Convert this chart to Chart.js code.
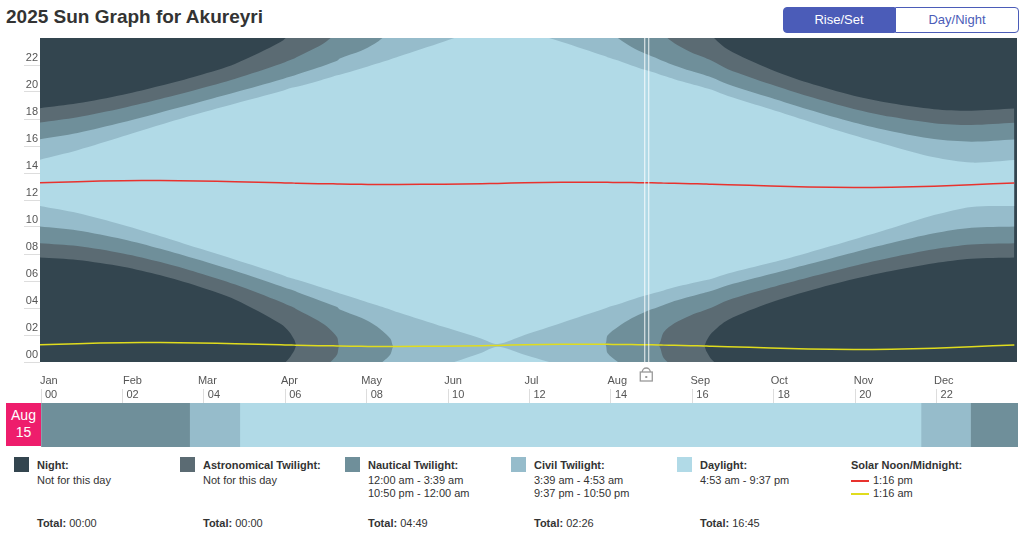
<!DOCTYPE html>
<html>
<head>
<meta charset="utf-8">
<script src="https://cdn.jsdelivr.net/npm/chart.js@4"></script>
<style>
  body { margin: 0; width: 1022px; height: 535px; overflow: hidden; font-family: "Helvetica Neue", "Liberation Sans", Arial, sans-serif; background: #fff; position: relative; }
  h1 { position: absolute; left: 6px; top: 6px; margin: 0; font-size: 19px; font-weight: bold; color: #333; }
  .btns { position: absolute; left: 783px; top: 7px; display: flex; }
  .btn { height: 24px; line-height: 24px; font-size: 13px; padding: 0 12px; border: 1px solid #4b5cb8; color: #4b5cb8; background: #fff; }
  .btn.on { background: #4b5cb8; color: #fff; border-radius: 4px 0 0 4px; width: 86px; text-align: center; }
  .btn.off { border-radius: 0 4px 4px 0; width: 98px; text-align: center; }
  #main { position: absolute; left: 0; top: 30px; width: 1022px; height: 358px; }
  #day { position: absolute; left: 0; top: 385px; width: 1022px; height: 62px; }
  .date { position: absolute; left: 6px; top: 403px; width: 35px; height: 43px; background: #ee1d6c; color: #fff; font-size: 14px; line-height: 17px; text-align: center; padding-top: 4px; box-sizing: border-box; }
  .leg { position: absolute; top: 457px; font-size: 11px; color: #333; }
  .leg .sw { position: absolute; left: 0; top: 0; width: 15px; height: 15px; }
  .leg .t { position: absolute; left: 23px; top: 2px; font-weight: bold; white-space: nowrap; }
  .leg .s { position: absolute; left: 23px; top: 17px; line-height: 13px; white-space: nowrap; }
  .leg .tot { position: absolute; left: 23px; top: 60px; white-space: nowrap; }
  .leg .tot b { font-weight: bold; }
  .ln { display: inline-block; width: 18px; height: 2px; vertical-align: middle; margin-right: 4px; }
</style>
</head>
<body>
<h1>2025 Sun Graph for Akureyri</h1>
<div class="btns"><div class="btn on">Rise/Set Times</div><div class="btn off">Day/Night Length</div></div>
<div id="main"><canvas id="sunChart"></canvas></div>
<div id="day"><canvas id="dayChart"></canvas></div>
<div class="date">Aug<br>15</div>

<div class="leg" style="left:14px"><div class="sw" style="background:#33454f"></div><div class="t">Night:</div><div class="s">Not for this day</div><div class="tot"><b>Total:</b> 00:00</div></div>
<div class="leg" style="left:180px"><div class="sw" style="background:#5b6b73"></div><div class="t">Astronomical Twilight:</div><div class="s">Not for this day</div><div class="tot"><b>Total:</b> 00:00</div></div>
<div class="leg" style="left:345px"><div class="sw" style="background:#6f8f9a"></div><div class="t">Nautical Twilight:</div><div class="s">12:00 am - 3:39 am<br>10:50 pm - 12:00 am</div><div class="tot"><b>Total:</b> 04:49</div></div>
<div class="leg" style="left:511px"><div class="sw" style="background:#96bccb"></div><div class="t">Civil Twilight:</div><div class="s">3:39 am - 4:53 am<br>9:37 pm - 10:50 pm</div><div class="tot"><b>Total:</b> 02:26</div></div>
<div class="leg" style="left:677px"><div class="sw" style="background:#b1dae7"></div><div class="t">Daylight:</div><div class="s">4:53 am - 9:37 pm</div><div class="tot"><b>Total:</b> 16:45</div></div>
<div class="leg" style="left:851px"><div class="t" style="left:0">Solar Noon/Midnight:</div><div class="s" style="left:0"><span class="ln" style="background:#e8322e"></span>1:16 pm<br><span class="ln" style="background:#e0dc1e"></span>1:16 am</div></div>

<script>
// day of year (Jan 1 = 0) for each sample
const days = [0, 14, 31, 45, 59, 73, 90, 93, 95, 96, 104, 108, 111, 112, 120, 125, 129, 131, 132, 134, 151, 165, 171, 181, 195, 211, 212, 216, 221, 226, 231, 233, 237, 243, 248, 249, 251, 257, 273, 287, 304, 318, 334, 348, 364];
// solar noon, hours
const noon = [13.27, 13.36, 13.43, 13.44, 13.41, 13.36, 13.27, 13.26, 13.25, 13.24, 13.21, 13.20, 13.19, 13.18, 13.16, 13.155, 13.15, 13.15, 13.15, 13.15, 13.17, 13.21, 13.23, 13.27, 13.31, 13.31, 13.31, 13.30, 13.29, 13.28, 13.26, 13.25, 13.24, 13.21, 13.19, 13.18, 13.17, 13.13, 13.04, 12.97, 12.93, 12.95, 13.02, 13.13, 13.26];
// half-durations (hours from noon) of daylight and each twilight limit; 12 = all day
const halfDay = [1.72, 2.33, 3.29, 4.13, 4.97, 5.78, 6.78, 7.00, 7.10, 7.15, 7.61, 7.85, 8.05, 8.10, 8.58, 8.90, 9.15, 9.28, 9.35, 9.48, 10.58, 11.48, 11.9, 11.27, 10.40, 9.35, 9.27, 9.03, 8.68, 8.36, 8.08, 7.95, 7.71, 7.40, 7.15, 7.10, 7.00, 6.58, 5.69, 4.87, 3.86, 3.05, 2.14, 1.64, 1.70];
const halfCivil = [3.23, 3.61, 4.33, 5.05, 5.82, 6.62, 7.66, 7.86, 7.98, 8.06, 8.61, 8.90, 9.12, 9.30, 9.89, 10.41, 11.03, 11.45, 12, 12, 12, 12, 12, 12, 12, 12, 11.35, 10.69, 10.05, 9.57, 9.19, 9.03, 8.73, 8.36, 8.08, 8.02, 7.90, 7.45, 6.53, 5.73, 4.81, 4.14, 3.49, 3.19, 3.22];
const halfNautical = [4.47, 4.77, 5.39, 6.04, 6.79, 7.62, 8.82, 9.07, 9.23, 9.36, 10.16, 10.71, 11.36, 12, 12, 12, 12, 12, 12, 12, 12, 12, 12, 12, 12, 12, 12, 12, 12, 12, 12, 11.05, 10.37, 9.76, 9.38, 9.30, 9.14, 8.56, 7.53, 6.71, 5.82, 5.21, 4.67, 4.43, 4.46];
const halfAstro = [5.53, 5.80, 6.37, 7.02, 7.80, 8.74, 10.45, 11.0, 11.6, 12, 12, 12, 12, 12, 12, 12, 12, 12, 12, 12, 12, 12, 12, 12, 12, 12, 12, 12, 12, 12, 12, 12, 12, 12, 12, 11.6, 11.0, 10.01, 8.63, 7.71, 6.79, 6.21, 5.71, 5.49, 5.52];

const monthStarts = [0, 31, 59, 90, 120, 151, 181, 212, 243, 273, 304, 334];
const monthLabels = ['Jan', 'Feb', 'Mar', 'Apr', 'May', 'Jun', 'Jul', 'Aug', 'Sep', 'Oct', 'Nov', 'Dec'];
const hourTicks = [0, 2, 4, 6, 8, 10, 12, 14, 16, 18, 20, 22];
const markDay = 226.5;

// selected day bar (Aug 15)
const segStart = [0, 3.65, 4.883, 21.617, 22.833];
const segEnd = [3.65, 4.883, 21.617, 22.833, 24];
const segColor = ['#6f8f9a', '#96bccb', '#b1dae7', '#96bccb', '#6f8f9a'];

const colors = { night: '#33454f', astro: '#5b6b73', nautical: '#6f8f9a', civil: '#96bccb', day: '#b1dae7' };
const pad = n => (n < 10 ? '0' : '') + n;

var datasets = [];
function band(half, color) {
	[0, -24].forEach(function (shift) {
		var lowIdx = datasets.length;
		datasets.push({
			data: days.map((d, i) => ({ x: d, y: noon[i] - half[i] + shift })),
			borderWidth: 0, pointRadius: 0, fill: false
		});
		datasets.push({
			data: days.map((d, i) => ({ x: d, y: noon[i] + half[i] + shift })),
			borderWidth: 0, pointRadius: 0, backgroundColor: color,
			fill: { target: lowIdx }
		});
	});
}
band(halfAstro, colors.astro);
band(halfNautical, colors.nautical);
band(halfCivil, colors.civil);
band(halfDay, colors.day);
datasets.push({ data: days.map((d, i) => ({ x: d, y: noon[i] })), borderColor: '#e8322e', borderWidth: 1.5, pointRadius: 0, fill: false });
datasets.push({ data: days.map((d, i) => ({ x: d, y: noon[i] - 12 })), borderColor: '#e0dc1e', borderWidth: 1.5, pointRadius: 0, fill: false });
datasets.forEach((ds, i) => { ds.order = datasets.length - i; });

const bgPlugin = {
	id: 'bg',
	beforeDraw(chart) {
		const a = chart.chartArea, c = chart.ctx;
		c.save();
		c.fillStyle = colors.night;
		c.fillRect(a.left, a.top, a.right - a.left, a.bottom - a.top);
		c.restore();
	}
};

const markPlugin = {
	id: 'mark',
	afterDatasetsDraw(chart) {
		const a = chart.chartArea, c = chart.ctx;
		const x = chart.scales.x.getPixelForValue(markDay);
		c.save();
		c.strokeStyle = 'rgba(255,255,255,0.9)';
		c.lineWidth = 1;
		[-2, 2].forEach(function (o) {
			c.beginPath();
			c.moveTo(x + o + 0.5, a.top);
			c.lineTo(x + o + 0.5, a.bottom);
			c.stroke();
		});
		// lock icon
		c.strokeStyle = '#999';
		c.lineWidth = 1.3;
		c.beginPath();
		c.arc(x, a.bottom + 10, 4, Math.PI, 0);
		c.stroke();
		c.strokeRect(x - 6, a.bottom + 10, 12, 9);
		c.fillStyle = '#999';
		c.fillRect(x - 1, a.bottom + 14, 2, 2);
		c.restore();
	}
};

new Chart(document.getElementById('sunChart'), {
	type: 'line',
	data: { datasets: datasets },
	options: {
		responsive: true,
		maintainAspectRatio: false,
		animation: false,
		layout: { padding: { top: 8, right: 5, left: 0, bottom: 0 } },
		plugins: { legend: { display: false }, tooltip: { enabled: false } },
		elements: { line: { tension: 0.3 } },
		scales: {
			x: {
				type: 'linear', min: 0, max: 365,
				afterBuildTicks: s => { s.ticks = monthStarts.map(v => ({ value: v })); },
				afterFit: s => { s.height = 26; },
				grid: { display: false },
				border: { display: false },
				ticks: { align: 'start', color: '#555', font: { size: 11 }, padding: 4, callback: (v, i) => monthLabels[i] }
			},
			y: {
				min: 0, max: 24,
				afterBuildTicks: s => { s.ticks = hourTicks.map(v => ({ value: v })); },
				afterFit: s => { s.width = 40; },
				border: { display: false },
				grid: { drawOnChartArea: false, tickLength: 16, color: '#ddd' },
				ticks: { color: '#555', font: { size: 11 }, labelOffset: -7, padding: -14, align: 'center', callback: v => pad(v) }
			}
		}
	},
	plugins: [bgPlugin, markPlugin]
});

new Chart(document.getElementById('dayChart'), {
	type: 'bar',
	data: {
		labels: ['Aug 15'],
		datasets: segStart.map((s, i) => ({
			data: [[s, segEnd[i]]],
			backgroundColor: segColor[i],
			barPercentage: 1, categoryPercentage: 1, grouped: false
		}))
	},
	options: {
		indexAxis: 'y',
		responsive: true,
		maintainAspectRatio: false,
		animation: false,
		layout: { padding: { left: 41, right: 4, top: 0, bottom: 0 } },
		plugins: { legend: { display: false }, tooltip: { enabled: false } },
		scales: {
			x: {
				position: 'top', min: 0, max: 24,
				afterBuildTicks: s => { s.ticks = hourTicks.map(v => ({ value: v })); },
				afterFit: s => { s.height = 18; },
				border: { display: false },
				grid: { drawOnChartArea: false, tickLength: 14, color: '#ddd' },
				ticks: { align: 'start', color: '#555', font: { size: 11 }, padding: -13, labelOffset: 4, callback: v => pad(v) }
			},
			y: { display: false }
		}
	}
});
</script>
</body>
</html>
